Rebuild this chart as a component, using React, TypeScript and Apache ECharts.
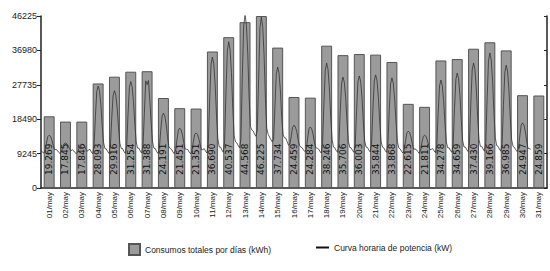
import React, { useEffect, useRef } from "react";
import * as echarts from "echarts";

const days = [
  "01/may", "02/may", "03/may", "04/may", "05/may", "06/may", "07/may", "08/may",
  "09/may", "10/may", "11/may", "12/may", "13/may", "14/may", "15/may", "16/may",
  "17/may", "18/may", "19/may", "20/may", "21/may", "22/may", "23/may", "24/may",
  "25/may", "26/may", "27/may", "28/may", "29/may", "30/may", "31/may",
];

const dailyTotals = [
  19269, 17845, 17846, 28093, 29916, 31254, 31388, 24191, 21451, 21351, 36690,
  40537, 44568, 46225, 37734, 24459, 24284, 38246, 35706, 36003, 35844, 33868,
  22615, 21811, 34278, 34659, 37430, 39166, 36985, 24947, 24859,
];

const yTicks = [0, 9245, 18490, 27735, 36980, 46225];

// hourly power curve, one reading every 2 hours (hours 0,2,...,22) for days 1..30
const curveByDay = [
  [10000, 9700, 9400, 10000, 12100, 13800, 14200, 13900, 12900, 11400, 10300, 10400],
  [10100, 9600, 9300, 9800, 10900, 11900, 12100, 11900, 11400, 10500, 10000, 10300],
  [10000, 9500, 9200, 9700, 10800, 11600, 11800, 11600, 11200, 10400, 9900, 10200],
  [10400, 9700, 9200, 11300, 19300, 26000, 27400, 26200, 22400, 16700, 12200, 10600],
  [10500, 9800, 9300, 11200, 18700, 24800, 26150, 25000, 21500, 16200, 12000, 10600],
  [10600, 9800, 9300, 11400, 20000, 27000, 28600, 27200, 23200, 17100, 12400, 10700],
  [10700, 9900, 9400, 11500, 20200, 28800, 27800, 28900, 23500, 17300, 12400, 10700],
  [10600, 9800, 9300, 10600, 15400, 19300, 20150, 19400, 17200, 13800, 11100, 10600],
  [10400, 9700, 9200, 10200, 13100, 15600, 16100, 15600, 14300, 12100, 10500, 10400],
  [10300, 9600, 9200, 10000, 12400, 14400, 14800, 14400, 13300, 11600, 10300, 10300],
  [10600, 9900, 9400, 12100, 23600, 33100, 35200, 33400, 28000, 19800, 13400, 11000],
  [11000, 10200, 9600, 12500, 25900, 36900, 39300, 37200, 31000, 21400, 14000, 12400],
  [12100, 11400, 10800, 13200, 29800, 43500, 46500, 43900, 36100, 24300, 16500, 15600],
  [15300, 14500, 13900, 15500, 29500, 43000, 45900, 43400, 35700, 24000, 16000, 14400],
  [13700, 13000, 12400, 13000, 22100, 30700, 32500, 30900, 26100, 18700, 14300, 13500],
  [13400, 12400, 11500, 11800, 14000, 16300, 16900, 16400, 15200, 13000, 11500, 11000],
  [10800, 10200, 9800, 10300, 13300, 15900, 16400, 15900, 14500, 12300, 10800, 10700],
  [10500, 9900, 9400, 11900, 22800, 31700, 33600, 31900, 26900, 19100, 13100, 11000],
  [10800, 10100, 9600, 11500, 20700, 28200, 29800, 28400, 24100, 17600, 12500, 10900],
  [10800, 10100, 9600, 11600, 20800, 28500, 30100, 28700, 24300, 17700, 12600, 11000],
  [10900, 10200, 9700, 11600, 21000, 28700, 30400, 29000, 24500, 17900, 12600, 11000],
  [10800, 10100, 9600, 11500, 20600, 28000, 29600, 28200, 23900, 17500, 12500, 10800],
  [10500, 9900, 9400, 10100, 12700, 14800, 15300, 14900, 13700, 11800, 10400, 10500],
  [10300, 9800, 9300, 10000, 12100, 13800, 14200, 13900, 12900, 11400, 10300, 10400],
  [10600, 10000, 9500, 11500, 20200, 27400, 29000, 27600, 23500, 17300, 12400, 10800],
  [10800, 10100, 9600, 11600, 21300, 29200, 30900, 29400, 24900, 18100, 12700, 11000],
  [11000, 10300, 9800, 11900, 22800, 31700, 33600, 31900, 26900, 19100, 13100, 11200],
  [11200, 10500, 9900, 12200, 24200, 34200, 36300, 34400, 28800, 20200, 13500, 11400],
  [11200, 10500, 9900, 11900, 22400, 31100, 33000, 31400, 26400, 18900, 13000, 11200],
  [10900, 10300, 9800, 10300, 13900, 16900, 17500, 17000, 15300, 12700, 10700, 10600],
];
const curveEnd = 10400;

const BAR_NAME = "Consumos totales por días (kWh)";
const LINE_NAME = "Curva horaria de potencia (kW)";

export default function App() {
  const ref = useRef<HTMLDivElement>(null);

  useEffect(() => {
    document.body.style.margin = "0";
    if (!ref.current) return;
    const chart = echarts.init(ref.current, null, { renderer: "svg" });

    const curve: [number, number][] = [];
    curveByDay.forEach((arr, d) => {
      arr.forEach((v, i) => curve.push([d * 24 + i * 2, v]));
    });
    curve.push([curveByDay.length * 24, curveEnd]);

    const yMax = yTicks[yTicks.length - 1];
    const yInt = yTicks[1] - yTicks[0];

    chart.setOption({
      animation: false,
      backgroundColor: "#ffffff",
      textStyle: { fontFamily: "Liberation Sans" },
      grid: { left: 41, right: 3, top: 16, bottom: 83, containLabel: false },
      legend: [
        {
          data: [BAR_NAME],
          left: 123,
          top: 238,
          itemWidth: 11,
          itemHeight: 11,
          icon: "rect",
          textStyle: { fontSize: 8.5, color: "#222", fontFamily: "Liberation Sans" },
        },
        {
          data: [LINE_NAME],
          left: 311,
          top: 238,
          itemWidth: 13,
          itemHeight: 2,
          icon: "rect",
          itemStyle: { color: "#111", borderWidth: 0 },
          textStyle: { fontSize: 8.5, color: "#222", fontFamily: "Liberation Sans" },
        },
      ],
      xAxis: [
        {
          type: "category",
          data: days,
          axisLine: { lineStyle: { color: "#222", width: 1.5 } },
          axisTick: { alignWithLabel: true, length: 3, lineStyle: { color: "#222" } },
          axisLabel: {
            rotate: 90,
            fontSize: 8,
            color: "#222",
            margin: 4,
            interval: 0,
            fontFamily: "Liberation Sans",
          },
        },
        {
          type: "value",
          min: 0,
          max: days.length * 24,
          show: false,
        },
      ],
      yAxis: [
        {
          type: "value",
          min: 0,
          max: yMax,
          interval: yInt,
          axisLine: { show: true, lineStyle: { color: "#222", width: 1.5 } },
          axisTick: { show: true, length: 4, lineStyle: { color: "#222" } },
          axisLabel: {
            fontSize: 9,
            color: "#222",
            margin: 4,
            formatter: (v: number) => String(v),
          },
          splitLine: { show: false },
        },
        {
          type: "value",
          min: 0,
          max: yMax,
          interval: yInt,
          position: "right",
          axisLine: { show: true, lineStyle: { color: "#222", width: 1.5 } },
          axisTick: { show: true, inside: true, length: 3, lineStyle: { color: "#222" } },
          axisLabel: { show: false },
          splitLine: { show: false },
        },
      ],
      series: [
        {
          name: BAR_NAME,
          type: "bar",
          data: dailyTotals,
          xAxisIndex: 0,
          yAxisIndex: 0,
          barCategoryGap: "33%",
          itemStyle: { color: "#9b9b9b", borderColor: "#555", borderWidth: 1 },
          label: {
            show: true,
            position: "insideBottom",
            rotate: 90,
            align: "left",
            verticalAlign: "middle",
            distance: 13,
            fontSize: 9,
            color: "#111",
            fontFamily: "DejaVu Sans",
            formatter: (p: any) =>
              String(p.value).replace(/\B(?=(\d{3})+(?!\d))/g, "."),
          },
          z: 2,
        },
        {
          name: LINE_NAME,
          type: "line",
          data: curve,
          xAxisIndex: 1,
          yAxisIndex: 1,
          showSymbol: false,
          symbol: "none",
          lineStyle: { color: "#333", width: 0.8 },
          itemStyle: { color: "#111" },
          z: 3,
        },
      ],
    });

    return () => chart.dispose();
  }, []);

  return <div ref={ref} style={{ width: 550, height: 271 }} />;
}
